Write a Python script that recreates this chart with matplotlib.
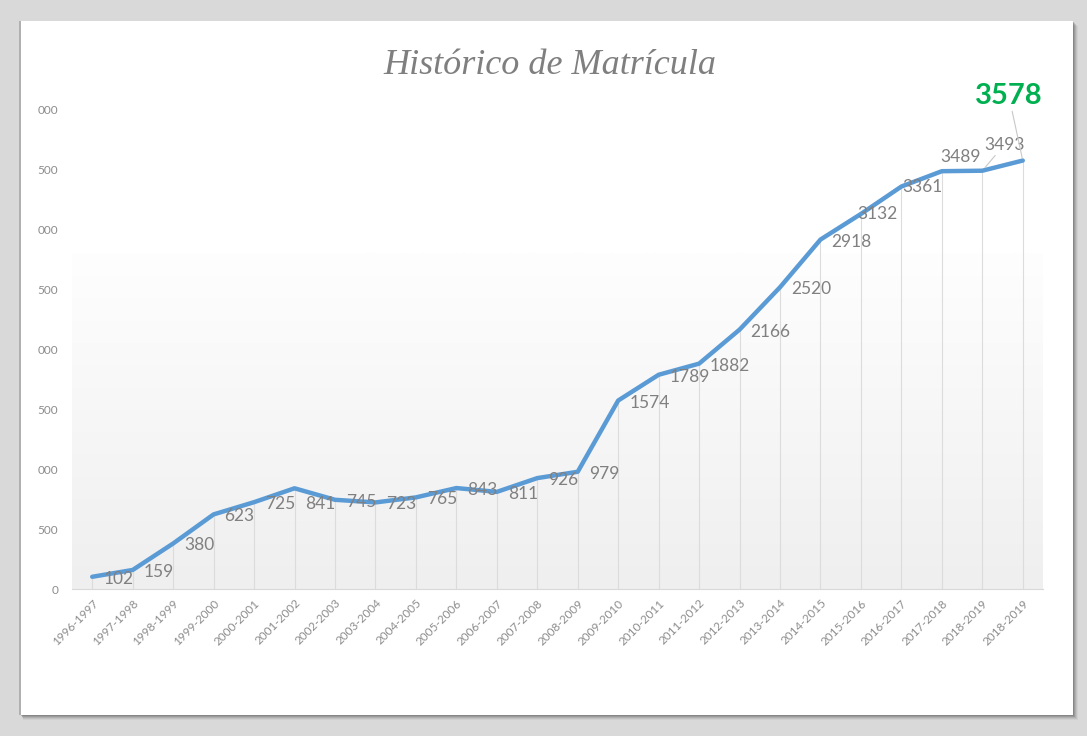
import matplotlib.pyplot as plt
import numpy as np
from matplotlib.patches import Rectangle
from matplotlib.ticker import FuncFormatter
from matplotlib.colors import LinearSegmentedColormap

# school years and enrolment counts
years = ['1996-1997', '1997-1998', '1998-1999', '1999-2000', '2000-2001',
         '2001-2002', '2002-2003', '2003-2004', '2004-2005', '2005-2006',
         '2006-2007', '2007-2008', '2008-2009', '2009-2010', '2010-2011',
         '2011-2012', '2012-2013', '2013-2014', '2014-2015', '2015-2016',
         '2016-2017', '2017-2018', '2018-2019', '2018-2019']
enrolment = [102, 159, 380, 623, 725, 841, 745, 723, 765, 843, 811, 926,
             979, 1574, 1789, 1882, 2166, 2520, 2918, 3132, 3361, 3489,
             3493, 3578]
y_ticks = [0, 500, 1000, 1500, 2000, 2500, 3000, 3500, 4000]

W, H = 1087, 736
fig = plt.figure(figsize=(W / 100, H / 100), dpi=100)
fig.patch.set_facecolor('#d9d9d9')

# white card with a soft shadow
def px_rect(x0, y0, x1, y1, **kw):
    return Rectangle((x0 / W, 1 - y1 / H), (x1 - x0) / W, (y1 - y0) / H,
                     transform=fig.transFigure, zorder=-5, **kw)

for k, a in zip(range(5, 0, -1), [0.08, 0.12, 0.18, 0.25, 0.35]):
    fig.add_artist(px_rect(21 + k * 0.4, 21 + k, 1073 + k, 715 + k,
                           facecolor='#606060', edgecolor='none', alpha=a))
fig.add_artist(px_rect(19, 21, 1073, 715, facecolor='#b0b0b0', edgecolor='none'))
fig.add_artist(px_rect(21, 21, 1073, 715, facecolor='white', edgecolor='none'))

fig.text(550 / W, 1 - 65 / H, 'Histórico de Matrícula', ha='center', va='center',
         fontsize=26, family='Liberation Serif', style='italic', color='#7f7f7f')

ax = fig.add_axes([72 / W, 147 / H, 971 / W, 479 / H])
ax.set_facecolor('none')
x = np.arange(len(enrolment))
ax.set_xlim(-0.5, len(enrolment) - 0.5)
ax.set_ylim(0, 4000)

# plot area gradient (light grey at the bottom fading to white)
grad = np.linspace(0, 1, 256).reshape(-1, 1)
ax.imshow(grad, extent=(-0.5, len(enrolment) - 0.5, 0, 2800), aspect='auto',
          cmap=LinearSegmentedColormap.from_list('g', ['#efefef', '#fefefe']),
          origin='lower', zorder=0)

ax.vlines(x, 0, enrolment, color='#dcdcdc', lw=0.8, zorder=1)
ax.plot(x, enrolment, color='#5b9bd5', lw=3.2, solid_joinstyle='round',
        solid_capstyle='round', zorder=3)

lab_font = dict(family='Lato', color='#808080', fontsize=12.5)
# label offsets in pixels (dx to left edge, dy upward); default is right of point
special = {5: (11, -16), 19: (-4, 0), 20: (1, 0), 21: (-2, 14)}
for i, v in enumerate(enrolment[:22]):
    dx, dy = special.get(i, (11, -2))
    ax.annotate(str(v), (i, v), xytext=(dx * 0.72, dy * 0.72),
                textcoords='offset points', ha='left', va='center', zorder=4,
                **lab_font)

ax.annotate(str(enrolment[22]), (22, enrolment[22]), xytext=(22 * 0.72, 26 * 0.72),
            textcoords='offset points', ha='center', va='center', zorder=4,
            arrowprops=dict(arrowstyle='-', color='#c8c8c8', lw=0.8,
                            shrinkA=0, shrinkB=3), **lab_font)
ax.annotate(str(enrolment[23]), (23, enrolment[23]), xytext=(-14 * 0.72, 65 * 0.72),
            textcoords='offset points', ha='center', va='center', zorder=4,
            family='Lato', fontsize=21, fontweight='bold', color='#00b050',
            arrowprops=dict(arrowstyle='-', color='#c8c8c8', lw=0.8,
                            shrinkA=0, shrinkB=2))

ax.set_xticks(x)
ax.set_xticklabels(years, rotation=45, ha='right', rotation_mode='anchor',
                   family='Lato', fontsize=8.5, color='#8c8c8c')
ax.set_yticks(y_ticks)
# the value axis labels are clipped on the left in the original, only last 3 digits show
ax.yaxis.set_major_formatter(FuncFormatter(lambda v, p: str(int(v))[-3:]))
for t in ax.get_yticklabels():
    t.set_family('Lato')
    t.set_fontsize(8.5)
    t.set_color('#8c8c8c')
ax.tick_params(axis='both', length=0)
ax.tick_params(axis='y', pad=10)
ax.tick_params(axis='x', pad=6)

for s in ['top', 'right', 'left']:
    ax.spines[s].set_visible(False)
ax.spines['bottom'].set_color('#d9d9d9')
ax.spines['bottom'].set_linewidth(0.8)

fig.savefig('out.png', dpi=100)
